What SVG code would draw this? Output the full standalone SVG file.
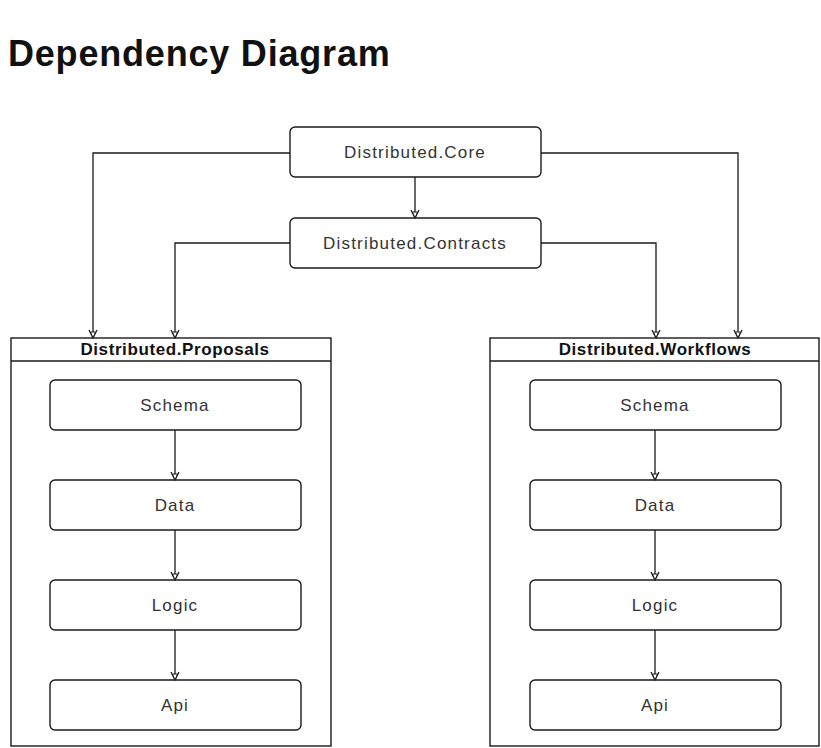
<svg xmlns="http://www.w3.org/2000/svg" width="821" height="748" viewBox="0 0 821 748">
<style>
.bg{fill:#fff}
.box{fill:#fff;stroke:#1a1a1a;stroke-width:1.4}
.cont{fill:#fff;stroke:#1a1a1a;stroke-width:1.4}
.lbl{font-family:"Liberation Sans",Arial,sans-serif;font-size:17px;letter-spacing:1.2px;fill:#333;text-anchor:middle}
.hdr{font-family:"Liberation Sans",Arial,sans-serif;font-size:17px;letter-spacing:0.6px;font-weight:bold;fill:#111;text-anchor:middle}
.title{font-family:"Liberation Sans",Arial,sans-serif;font-size:36px;letter-spacing:0.8px;font-weight:bold;fill:#111}
.edge{fill:none;stroke:#1a1a1a;stroke-width:1.3}
</style>
<defs>
<marker id="arr" viewBox="0 0 10 10" refX="9" refY="5" markerWidth="10" markerHeight="10" orient="auto" markerUnits="userSpaceOnUse">
<path d="M1,1 L9,5 L1,9" fill="none" stroke="#1a1a1a" stroke-width="1.3"/>
<path d="M3,2.5 L9,5 L3,7.5 Z" fill="#fff" stroke="#1a1a1a" stroke-width="1"/>
</marker>
</defs>
<rect class="bg" x="0" y="0" width="821" height="748"/>
<text class="title" x="8" y="66">Dependency Diagram</text>

<g id="proposals">
<rect class="cont" x="11" y="338" width="320" height="408"/>
<line class="cont" x1="11" y1="361" x2="331" y2="361"/>
<text class="hdr" x="175" y="355">Distributed.Proposals</text>
</g>
<g id="workflows">
<rect class="cont" x="490" y="338" width="329" height="408"/>
<line class="cont" x1="490" y1="361" x2="819" y2="361"/>
<text class="hdr" x="655" y="355">Distributed.Workflows</text>
</g>

<g id="core">
<rect class="box" x="290" y="127" width="251" height="50" rx="5"/>
<text class="lbl" x="415" y="158">Distributed.Core</text>
</g>
<g id="contracts">
<rect class="box" x="290" y="218" width="251" height="50" rx="5"/>
<text class="lbl" x="415" y="249">Distributed.Contracts</text>
</g>

<g id="p-schema"><rect class="box" x="50" y="380" width="251" height="50" rx="5"/><text class="lbl" x="175" y="411">Schema</text></g>
<g id="p-data"><rect class="box" x="50" y="480" width="251" height="50" rx="5"/><text class="lbl" x="175" y="511">Data</text></g>
<g id="p-logic"><rect class="box" x="50" y="580" width="251" height="50" rx="5"/><text class="lbl" x="175" y="611">Logic</text></g>
<g id="p-api"><rect class="box" x="50" y="680" width="251" height="50" rx="5"/><text class="lbl" x="175" y="711">Api</text></g>

<g id="w-schema"><rect class="box" x="530" y="380" width="251" height="50" rx="5"/><text class="lbl" x="655" y="411">Schema</text></g>
<g id="w-data"><rect class="box" x="530" y="480" width="251" height="50" rx="5"/><text class="lbl" x="655" y="511">Data</text></g>
<g id="w-logic"><rect class="box" x="530" y="580" width="251" height="50" rx="5"/><text class="lbl" x="655" y="611">Logic</text></g>
<g id="w-api"><rect class="box" x="530" y="680" width="251" height="50" rx="5"/><text class="lbl" x="655" y="711">Api</text></g>

<g id="connectors">
<path class="edge" marker-end="url(#arr)" d="M415,177 L415,218"/>
<path class="edge" marker-end="url(#arr)" d="M290,153 L93,153 L93,338"/>
<path class="edge" marker-end="url(#arr)" d="M290,243 L175,243 L175,338"/>
<path class="edge" marker-end="url(#arr)" d="M541,153 L738,153 L738,338"/>
<path class="edge" marker-end="url(#arr)" d="M541,243 L656,243 L656,338"/>
<path class="edge" marker-end="url(#arr)" d="M175,430 L175,480"/>
<path class="edge" marker-end="url(#arr)" d="M175,530 L175,580"/>
<path class="edge" marker-end="url(#arr)" d="M175,630 L175,680"/>
<path class="edge" marker-end="url(#arr)" d="M655,430 L655,480"/>
<path class="edge" marker-end="url(#arr)" d="M655,530 L655,580"/>
<path class="edge" marker-end="url(#arr)" d="M655,630 L655,680"/>
</g>
</svg>
